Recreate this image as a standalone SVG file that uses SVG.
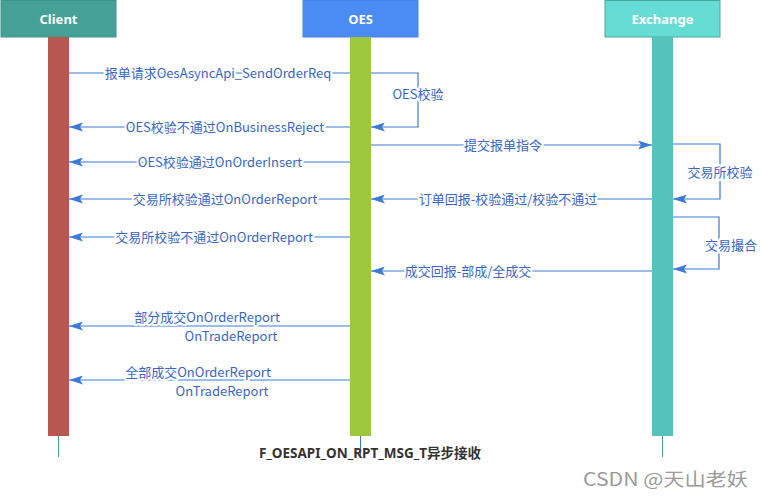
<svg xmlns="http://www.w3.org/2000/svg" width="762" height="497" viewBox="0 0 762 497">
<style>
.hd{font-family:"Noto Sans","Noto Sans CJK SC",sans-serif;font-weight:bold;font-size:13px;fill:#fff;text-anchor:middle}
.lb{font-family:"Noto Sans CJK SC","Noto Sans",sans-serif;font-size:13px;fill:#3a66c4;text-anchor:middle;stroke:#fff;stroke-width:4px;paint-order:stroke;stroke-linejoin:round}
.ln{fill:none;stroke:#3c7ad8;stroke-width:1.2}
</style>
<defs>
<marker id="ah" viewBox="0 0 14 9" refX="14" refY="4.5" markerWidth="14" markerHeight="9" markerUnits="userSpaceOnUse" orient="auto">
<path d="M0,0 L14,4.5 L0,9 L3,4.5 Z" fill="#3c7ad8"/>
</marker>
</defs>
<rect width="762" height="497" fill="#fff"/>
<g id="client">
<rect x="1" y="0.5" width="115" height="36.5" fill="#45a197" stroke="#3f948a"/>
<text class="hd" x="58.5" y="24">Client</text>
<line x1="58.5" y1="436" x2="58.5" y2="457" stroke="#45a197"/>
<rect x="48" y="37" width="21" height="399" fill="#b85650"/>
</g>
<g id="oes">
<rect x="303" y="0.5" width="115" height="36.5" fill="#4a8cf3" stroke="#4585ea"/>
<text class="hd" x="360.5" y="24">OES</text>
<line x1="360.5" y1="436" x2="360.5" y2="457" stroke="#3c7ad8"/>
<rect x="350" y="37" width="21" height="399" fill="#9ec63f"/>
</g>
<g id="exchange">
<rect x="605" y="0.5" width="115" height="36.5" fill="#66ddd4" stroke="#4aa8a0"/>
<text class="hd" x="662.5" y="24">Exchange</text>
<line x1="662.5" y1="436" x2="662.5" y2="457" stroke="#45a197"/>
<rect x="652" y="37" width="21" height="399" fill="#57c2b9"/>
</g>
<g id="connectors">
<path class="ln" d="M69,73 H350 M371,73 H418 V127 H371" marker-end="url(#ah)"/>
<text class="lb" x="218" y="78">报单请求OesAsyncApi_SendOrderReq</text>
<text class="lb" x="418" y="99">OES校验</text>
<path class="ln" d="M350,127 H69" marker-end="url(#ah)"/>
<text class="lb" x="225" y="132">OES校验不通过OnBusinessReject</text>
<path class="ln" d="M371,145 H652" marker-end="url(#ah)"/>
<text class="lb" x="503" y="150">提交报单指令</text>
<path class="ln" d="M673,144 H720 V199 H673" marker-end="url(#ah)"/>
<text class="lb" x="720" y="177">交易所校验</text>
<path class="ln" d="M350,162 H69" marker-end="url(#ah)"/>
<text class="lb" x="220" y="167">OES校验通过OnOrderInsert</text>
<path class="ln" d="M350,199 H69" marker-end="url(#ah)"/>
<text class="lb" x="225" y="204">交易所校验通过OnOrderReport</text>
<path class="ln" d="M652,199 H371" marker-end="url(#ah)"/>
<text class="lb" x="508" y="204">订单回报-校验通过/校验不通过</text>
<path class="ln" d="M673,217 H719 V269 H673" marker-end="url(#ah)"/>
<text class="lb" x="731" y="250">交易撮合</text>
<path class="ln" d="M350,237 H69" marker-end="url(#ah)"/>
<text class="lb" x="214" y="242">交易所校验不通过OnOrderReport</text>
<path class="ln" d="M652,271 H371" marker-end="url(#ah)"/>
<text class="lb" x="468" y="276">成交回报-部成/全成交</text>
<path class="ln" d="M350,326 H69" marker-end="url(#ah)"/>
<text class="lb" x="207" y="322">部分成交OnOrderReport</text>
<text class="lb" x="231" y="341">OnTradeReport</text>
<path class="ln" d="M350,380 H69" marker-end="url(#ah)"/>
<text class="lb" x="198" y="377">全部成交OnOrderReport</text>
<text class="lb" x="222" y="396">OnTradeReport</text>
</g>
<text x="370" y="458" font-family="Noto Sans,Noto Sans CJK SC,sans-serif" font-weight="bold" font-size="13.5" fill="#333" text-anchor="middle">F_OESAPI_ON_RPT_MSG_T异步接收</text>
<text x="583" y="486" font-family="Noto Sans CJK SC,sans-serif" font-size="18" fill="#9a9a9a" textLength="165" lengthAdjust="spacingAndGlyphs">CSDN @天山老妖</text>
</svg>
